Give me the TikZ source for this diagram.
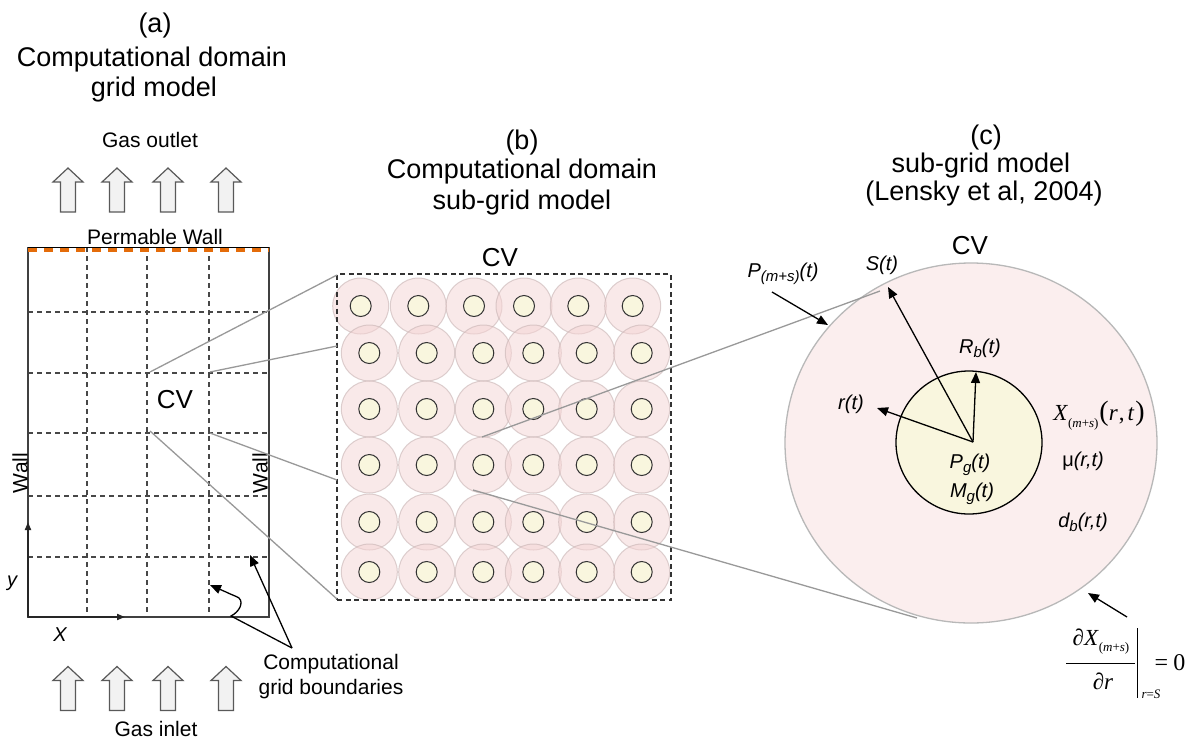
\documentclass[tikz,border=0pt]{standalone}
\usepackage{fontspec}
\setmainfont{Liberation Sans}
\newfontfamily\seriffont{Liberation Serif}
\usetikzlibrary{arrows.meta,shapes.geometric}
\newcommand\lowsub[1]{\raisebox{-0.45ex}{\fontsize{15}{15}\selectfont #1}}
\definecolor{wallorange}{RGB}{228,108,10}
\definecolor{outerpink}{RGB}{245,212,212}
\definecolor{cream}{RGB}{249,246,222}
\definecolor{bigpink}{RGB}{251,238,238}
\tikzset{
  every node/.style={inner sep=0pt, outer sep=0pt},
  ttl/.style={font=\fontsize{27}{32}\selectfont, text height=20pt, text depth=6pt},
  lbl/.style={font=\fontsize{21}{25}\selectfont},
  cvlbl/.style={font=\fontsize{26}{30}\selectfont},
  mlbl/.style={font=\fontsize{20}{24}\selectfont\itshape, anchor=base},
  gridline/.style={draw=black!72, line width=1.1pt, dash pattern=on 5pt off 4pt},
  zoomline/.style={draw=black!40, line width=1.3pt},
  ptr/.style={-{Triangle[length=11pt,width=9pt]}, line width=1.3pt, black},
  axisarrow/.style={-{Triangle[length=8pt,width=6pt]}, line width=1.8pt, black!85},
  outc/.style={circle, minimum size=56pt, fill=outerpink, fill opacity=0.5, draw={rgb,255:red,200;green,180;blue,180}, draw opacity=0.6, line width=1pt},
  inc/.style={circle, minimum size=21pt, fill=cream, draw=black!80, line width=1pt},
  gasarrow/.pic={\draw[fill=black!5, draw=black!65, line width=1.2pt, line join=miter]
     (-7.5,22) -- (-7.5,-8) -- (-15,-8) -- (0,-22) -- (15,-8) -- (7.5,-8) -- (7.5,22) -- cycle;}
}
\begin{document}
\begin{tikzpicture}[x=1pt,y=-1pt]
\useasboundingbox (0,0) rectangle (1199,742);
\fill[white] (0,0) rectangle (1199,742);

% ---------- titles ----------
\node[ttl] (ta1) at (155,25) {(a)};
\node[ttl] (ta2) at (152,59) {Computational domain};
\node[ttl] (ta3) at (154,89) {grid model};
\node[ttl] (tb1) at (522,142) {(b)};
\node[ttl] (tb2) at (522,171) {Computational domain};
\node[ttl] (tb3) at (522,202) {sub-grid model};
\node[ttl] (tc1) at (986,137) {(c)};
\node[ttl] (tc2) at (981,165) {sub-grid model};
\node[ttl] (tc3) at (984,193) {(Lensky et al, 2004)};

% ---------- (a) ----------
\node[lbl] (gout) at (150,140) {Gas outlet};
\foreach \x in {68,117,168,226} \pic at (\x,190) {gasarrow};
\node[lbl] (pwall) at (155,237) {Permable Wall};
\foreach \x in {68,117,168,226} \pic at (\x,688.5) {gasarrow};
\node[lbl] (gin) at (156,729) {Gas inlet};

\foreach \x in {87,147,209} \draw[gridline] (\x,247) -- (\x,617);
\foreach \y in {312,373,433,496,557} \draw[gridline] (28,\y) -- (269,\y);
\draw[line width=1.5pt, black!75] (28,247) -- (28,617) -- (269,617) -- (269,247);
\draw[line width=1pt, black] (28,247) -- (269,247);
\draw[wallorange, line width=3.5pt, dash pattern=on 9pt off 7pt] (28,250) -- (269,250);

\coordinate (orig) at (28,617);
\coordinate (yend) at (28,522);
\coordinate (xend) at (125,617);
\draw[axisarrow] (orig) -- (yend);
\draw[axisarrow] (orig) -- (xend);
\node[font=\fontsize{20}{24}\selectfont\itshape] (ylab) at (12,583) {y};
\node[font=\fontsize{20}{24}\selectfont\itshape] (xlab) at (60,635) {X};
\node[lbl, rotate=90] (wl) at (20,473) {Wall};
\node[lbl, rotate=90] (wr) at (260,473) {Wall};
\node[cvlbl] (cva) at (175,400) {CV};

\node[lbl, align=center] (gbl) at (331,677) {Computational\\grid boundaries};
\coordinate (gbtip) at (292,648);
\coordinate (gbend1) at (250,555);
\coordinate (gbend2) at (210,585);
\draw[ptr] (gbtip) -- (gbend1);
\draw[ptr] (gbtip) -- (231,616) .. controls (239,612) and (244,603) .. (239,598)
  .. controls (236,596) and (232,595) .. (226,592) -- (gbend2);

% ---------- (b) ----------
\foreach \x [count=\c] in {360.7,418.3,474,524,578.3,632.7}
  \node[outc] (o-1-\c) at (\x,306) {};
\foreach \y [count=\r from 2] in {353,409,465,522,572}
  \foreach \x [count=\c] in {369.3,426.7,483.3,533.3,586.7,641.7}
    \node[outc] (o-\r-\c) at (\x,\y) {};
\foreach \x [count=\c] in {360.7,418.3,474,524,578.3,632.7}
  \node[inc] (i-1-\c) at (\x,306) {};
\foreach \y [count=\r from 2] in {353,409,465,522,572}
  \foreach \x [count=\c] in {369.3,426.7,483.3,533.3,586.7,641.7}
    \node[inc] (i-\r-\c) at (\x,\y) {};
\node[draw=black!80, line width=1.5pt, dash pattern=on 5pt off 3.5pt, minimum width=334pt, minimum height=326pt] (boxb) at (504,437) {};
\node[cvlbl] (cvb) at (500,258) {CV};

% zoom lines (a) -> (b)
\coordinate (za1) at (150,372);
\coordinate (za2) at (210,372);
\coordinate (za3) at (150,431);
\coordinate (za4) at (210,433);
\coordinate (zb1) at (337,275);
\coordinate (zb2) at (337,346);
\coordinate (zb3) at (337,599);
\coordinate (zb4) at (337,480);
\draw[zoomline] (za1) -- (zb1);
\draw[zoomline] (za2) -- (zb2);
\draw[zoomline] (za3) -- (zb3);
\draw[zoomline] (za4) -- (zb4);

% ---------- (c) ----------
\node[ellipse, minimum width=372pt, minimum height=360pt, fill=bigpink, draw=black!28, line width=1.3pt] (cv) at (971,443) {};
\node[ellipse, minimum width=146pt, minimum height=143pt, fill=cream, draw=black, line width=1.3pt] (bub) at (969,442.5) {};
\node[cvlbl] (cvc) at (970,246) {CV};

\coordinate (zc1) at (482,437);
\coordinate (zc2) at (473,490);
\coordinate (zd1) at (880,291);
\coordinate (zd2) at (917,618);
\draw[zoomline] (zc1) -- (zd1);
\draw[zoomline] (zc2) -- (zd2);

\coordinate (c0) at (973,442);
\coordinate (stip) at (888,287);
\coordinate (rbtip) at (976,372);
\coordinate (rtip) at (877,408);
\draw[ptr] (c0) -- (stip);
\draw[ptr] (c0) -- (rbtip);
\draw[ptr] (c0) -- (rtip);

\coordinate (pa1) at (772,292);
\coordinate (pa2) at (828,325);
\draw[ptr] (pa1) -- (pa2);
\coordinate (br1) at (1127,617);
\coordinate (br2) at (1088,593);
\draw[ptr] (br1) -- (br2);

\node[mlbl] (slab) at (882,270) {S(t)};
\node[mlbl] (plab) at (783,277) {P\lowsub{(m+s)}(t)};
\node[mlbl] (rblab) at (980,353) {R\lowsub{b}(t)};
\node[mlbl] (rlab) at (851,409) {r(t)};
\node[mlbl] (pglab) at (970,468) {P\lowsub{g}(t)};
\node[mlbl] (mglab) at (972,497) {M\lowsub{g}(t)};
\node[mlbl] (mulab) at (1083,466) {{\upshape μ}(r,t)};
\node[mlbl] (dblab) at (1083,527) {d\lowsub{b}(r,t)};
\node[anchor=base] (xlab) at (1099,420) {\seriffont\fontsize{23}{23}\selectfont\textit{X}\raisebox{-7pt}{\fontsize{13}{13}\selectfont(\textit{m}+\textit{s})}\kern1pt{\fontsize{28}{28}\selectfont(}\textit{r}\kern1pt,\kern3pt\textit{t}\kern1pt{\fontsize{28}{28}\selectfont)}};

% formula
\node (num) at (1101,642) {\seriffont\fontsize{23}{23}\selectfont ∂\textit{X}\raisebox{-6pt}{\fontsize{13}{13}\selectfont(\textit{m}+\textit{s})}};
\node (den) at (1103,681) {\seriffont\fontsize{23}{23}\selectfont ∂\textit{r}};
\draw[line width=1pt] (1066,663) -- (1135,663);
\draw[line width=1pt] (1137,628) -- (1137,698);
\node (evalat) at (1151,694) {\seriffont\fontsize{13}{13}\selectfont\textit{r}=\textit{S}};
\node (eqz) at (1170,663) {\seriffont\fontsize{24}{24}\selectfont =\kern5pt 0};
\end{tikzpicture}
\end{document}
